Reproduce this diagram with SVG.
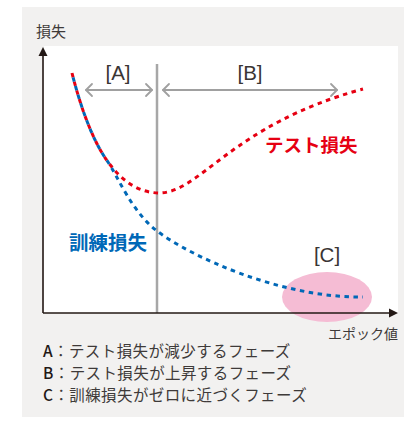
<svg xmlns="http://www.w3.org/2000/svg" width="404" height="427" viewBox="0 0 404 427">
<style>
.ax{stroke:#231815;stroke-width:1.6;fill:none}
.gl{stroke:#a7a7a7;fill:none}
.ga{stroke:#a0a0a0;stroke-width:1.8;fill:none;stroke-linecap:round;stroke-linejoin:round}
.cv{fill:none;stroke-width:3;stroke-dasharray:4.5 4.5}
.t{font-family:"Noto Sans CJK JP","Noto Sans",sans-serif}
.br{font-family:"Liberation Sans","Noto Sans",sans-serif;font-size:20.5px;fill:#3a3534}
.lg{font-family:"Noto Sans CJK JP",sans-serif;font-size:15.5px;fill:#3e3a39;letter-spacing:0.4px}
.lk{font-weight:500;fill:#231815}
</style>
<rect x="22" y="7" width="382" height="410" fill="#f2f1f0"/>
<rect x="44" y="46" width="354" height="267" fill="#ffffff"/>
<g id="region-c">
<ellipse cx="327" cy="297" rx="45" ry="25" fill="#f5bcd4"/>
<text class="br" x="327" y="262" text-anchor="middle">[C]</text>
</g>
<g id="divider">
<line class="gl" x1="157" y1="64" x2="157" y2="313" stroke-width="2.5"/>
</g>
<g id="connectors">
<g id="arrow-a">
<line class="ga" x1="86" y1="90" x2="152" y2="90"/>
<polyline class="ga" points="92,84 86,90 92,96"/>
<polyline class="ga" points="146,84 152,90 146,96"/>
</g>
<g id="arrow-b">
<line class="ga" x1="163" y1="90" x2="337" y2="90"/>
<polyline class="ga" points="169,84 163,90 169,96"/>
<polyline class="ga" points="331,84 337,90 331,96"/>
</g>
</g>
<g id="label-a"><text class="br" x="118" y="80" text-anchor="middle">[A]</text></g>
<g id="label-b"><text class="br" x="250" y="80" text-anchor="middle">[B]</text></g>
<g id="test-loss">
<path class="cv" stroke="#e60012" d="M72,73 C80,105 92,140 108,162 C120,178 135,192 158,193 C200,194 230,125 363,89"/>
<text class="t" x="265" y="152" font-size="18.5" font-weight="bold" fill="#e60012">テスト損失</text>
</g>
<g id="train-loss">
<path class="cv" stroke="#0068b7" stroke-dashoffset="4.5" d="M72,73 C80,105 92,140 108,162 C118,177 132,212 157,231 C190,256 280,298 363,297"/>
<text class="t" x="69" y="250" font-size="19.5" font-weight="bold" fill="#0068b7">訓練損失</text>
</g>
<g id="axes">
<line class="ax" x1="43" y1="54" x2="43" y2="313"/>
<line class="ax" x1="43" y1="313" x2="390" y2="313"/>
<polygon points="43,47 38.5,56 47.5,56" fill="#231815"/>
<polygon points="398,313 389,308.5 389,317.5" fill="#231815"/>
<text class="t" x="36" y="37" font-size="15" fill="#3e3a39">損失</text>
<text class="t" x="398" y="339" font-size="14" fill="#3e3a39" text-anchor="end">エポック値</text>
</g>
<g id="legend">
<text class="lg" x="43" y="357"><tspan class="lk">A</tspan>：テスト損失が減少するフェーズ</text>
<text class="lg" x="43" y="379"><tspan class="lk">B</tspan>：テスト損失が上昇するフェーズ</text>
<text class="lg" x="43" y="401"><tspan class="lk">C</tspan>：訓練損失がゼロに近づくフェーズ</text>
</g>
</svg>
